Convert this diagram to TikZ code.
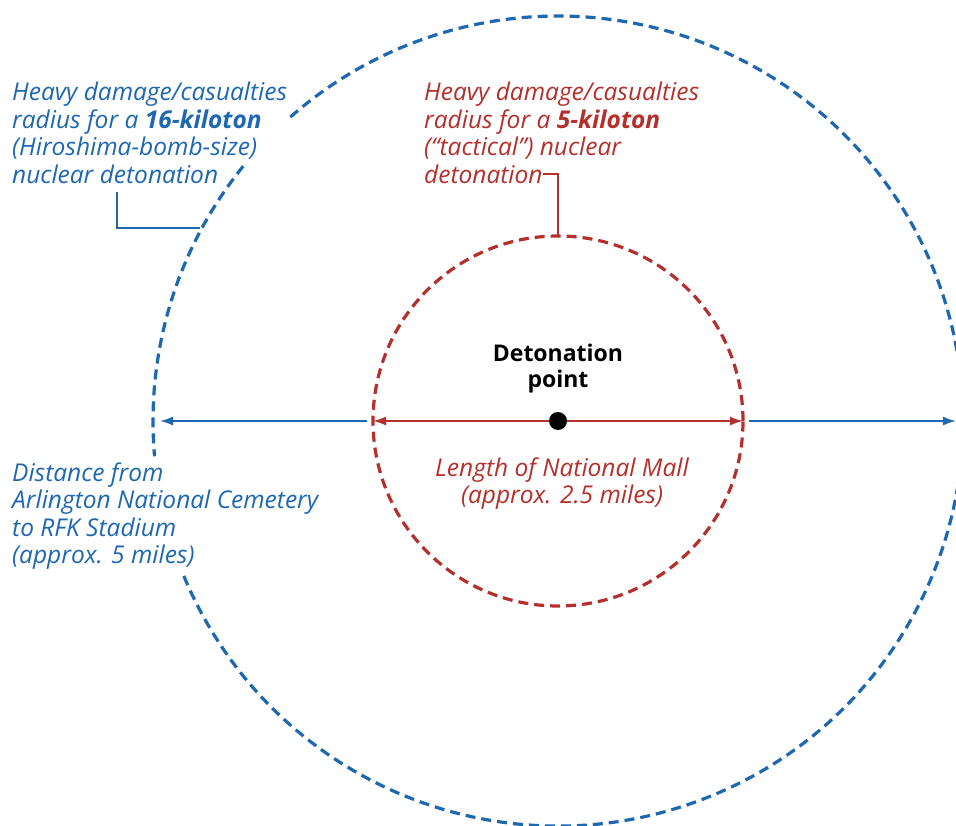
\documentclass[tikz,border=0pt]{standalone}
\usepackage{fontspec}
\setmainfont{Open Sans}
\usetikzlibrary{arrows.meta}
\definecolor{nblue}{RGB}{30,104,178}
\definecolor{nred}{RGB}{180,48,44}
\tikzset{
  lbl/.style={inner sep=0pt, align=left, font=\fontsize{24.5}{27.5}\selectfont\itshape},
  ring/.style={dash pattern=on 10pt off 6pt, line width=3.2pt},
  leader/.style={line width=1.4pt},
  arr/.style={line width=1.6pt, -{Latex[length=13pt,width=9pt]}}
}
\begin{document}
\begin{tikzpicture}[x=1pt,y=1pt]
\useasboundingbox (0,0) rectangle (956,-826);
\clip (0,0) rectangle (956,-826);
\fill[white] (0,0) rectangle (956,-826);
\coordinate (C) at (558,-421);
% big ring, with gaps for the two blue labels
\draw[ring, nblue] (C) ++(141:405) arc[start angle=141, end angle=185, radius=405];
\draw[ring, nblue] (C) ++(202.5:405) arc[start angle=202.5, end angle=492, radius=405];
% small ring
\draw[ring, nred] (C) circle[radius=185];
% dot
\node[circle, fill=black, minimum size=18pt, inner sep=0pt] (dot) at (C) {};
% edge coordinates
\coordinate (rl) at (373,-421);
\coordinate (rr) at (743,-421);
\coordinate (bl0) at (367,-421);
\coordinate (bl) at (160,-421);
\coordinate (br0) at (749,-421);
\coordinate (br) at (956,-421);
\draw[arr, nred] (dot) -- (rl);
\draw[arr, nred] (dot) -- (rr);
\draw[arr, nblue] (bl0) -- (bl);
\draw[arr, nblue] (br0) -- (br);
% labels (anchor base = baseline of last line)
\node[lbl, nblue, anchor=base west] (bluelbl) at (12,-183.5) {Heavy damage/casualties\\radius for a \textbf{16-kiloton}\\(Hiroshima-bomb-size)\\nuclear detonation};
\node[lbl, nred, anchor=base west] (redlbl) at (424,-183.5) {Heavy damage/casualties\\radius for a \textbf{5-kiloton}\\(“tactical”) nuclear\\detonation};
\node[inner sep=0pt, align=center, font=\fontsize{23}{26}\selectfont\bfseries, anchor=base] (det) at (558,-387) {Detonation\\point};
\node[lbl, nred, align=center, anchor=base] (mall) at (562,-503.5) {Length of National Mall\\(approx. 2.5 miles)};
\node[lbl, nblue, anchor=base west] (dist) at (12,-563.5) {Distance from\\Arlington National Cemetery\\to RFK Stadium\\(approx. 5 miles)};
% leaders
\coordinate (bk1) at (117,-192);
\coordinate (bk2) at (117,-228);
\coordinate (bk3) at (200,-228);
\draw[leader, nblue] (bk1) -- (bk2) -- (bk3);
\coordinate (rk1) at (543,-174);
\coordinate (rk2) at (558,-174);
\coordinate (rk3) at (558,-236);
\draw[leader, nred] (rk1) -- (rk2) -- (rk3);
\end{tikzpicture}
\end{document}
